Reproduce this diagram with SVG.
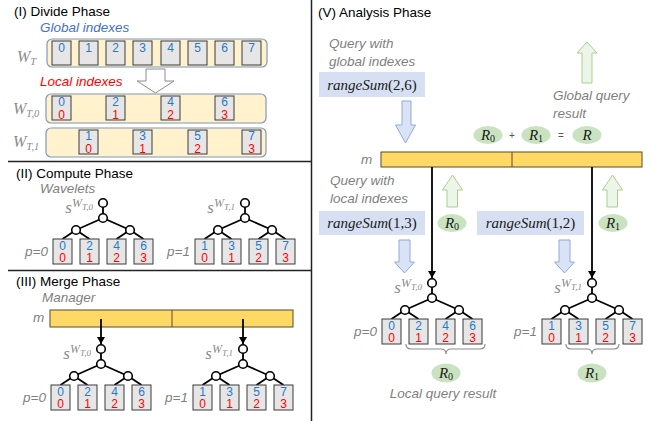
<svg xmlns="http://www.w3.org/2000/svg" width="652" height="421" viewBox="0 0 652 421">
<style>
.title{font-family:"Liberation Sans",Arial,sans-serif;font-size:13.5px;fill:#000}
.gi{font-family:"Liberation Sans",Arial,sans-serif;font-size:13.5px;font-style:italic;fill:#7f7f7f}
.bl{fill:#4472c4}
.rd{fill:#ff0000}
.math{font-family:"Liberation Serif","Times New Roman",serif;font-style:italic;fill:#8c8c8c}
.mathk{font-family:"Liberation Serif","Times New Roman",serif;font-style:italic;fill:#1a1a1a;font-size:15px}
.up{font-style:normal}
.cell{fill:#e6e6e6;stroke:#3a3a3a;stroke-width:1}
.db{font-family:"Liberation Sans",Arial,sans-serif;font-size:12px;fill:#2878c8;text-anchor:middle}
.dr{font-family:"Liberation Sans",Arial,sans-serif;font-size:12px;fill:#ff0000;text-anchor:middle}
.wbar{fill:#fff2cc;stroke:#7f98c0;stroke-width:1.2}
.gold{fill:#ffd966;stroke:#5a4a28;stroke-width:1}
.edge{stroke:#000;stroke-width:1.8;fill:none}
.nd{fill:#fff;stroke:#000;stroke-width:1.6}
.sep{stroke:#222;stroke-width:1.5}
.harrow{fill:#fff;stroke:#8c8c8c;stroke-width:1}
.barrow{fill:#dae3f3;stroke:#8faadc;stroke-width:1}
.garrow{fill:#edf5e9;stroke:#a9d18e;stroke-width:1}
.qbox{fill:#d6e0f2}
.ell{fill:#c9e2c0}
.brace{fill:none;stroke:#8c8c8c;stroke-width:1.2}
.sym{font-family:"Liberation Sans",Arial,sans-serif;font-size:10px;fill:#555;text-anchor:middle}
</style>
<defs>
<marker id="ah" markerWidth="7" markerHeight="8" refX="7" refY="4" orient="auto" markerUnits="userSpaceOnUse"><path d="M0,0 L7,4 L0,8 z" fill="#000"/></marker>
<g id="skel">
<path class="edge" d="M0,0 V15 M0,15 L-27,27 M0,15 L27,27 M-27,27 L-40.5,36 M-27,27 L-13.5,36 M27,27 L13.5,36 M27,27 L40.5,36"/>
<circle class="nd" cx="0" cy="0" r="4.3"/>
<circle class="nd" cx="0" cy="15" r="4.3"/>
<circle class="nd" cx="-27" cy="27" r="4.3"/>
<circle class="nd" cx="27" cy="27" r="4.3"/>
<rect class="cell" x="-50" y="36" width="19" height="25"/>
<rect class="cell" x="-23" y="36" width="19" height="25"/>
<rect class="cell" x="4" y="36" width="19" height="25"/>
<rect class="cell" x="31" y="36" width="19" height="25"/>
<text class="dr" x="-40.5" y="59">0</text>
<text class="dr" x="-13.5" y="59">1</text>
<text class="dr" x="13.5" y="59">2</text>
<text class="dr" x="40.5" y="59">3</text>
</g>
</defs>

<!-- separators -->
<g id="separators">
<line class="sep" x1="311.5" y1="0" x2="311.5" y2="421"/>
<line class="sep" x1="8" y1="161.5" x2="311.5" y2="161.5"/>
<line class="sep" x1="8" y1="270.5" x2="311.5" y2="270.5"/>
</g>

<!-- (I) Divide Phase -->
<g id="divide">
<text class="title" x="14" y="16">(I) Divide Phase</text>
<text class="gi bl" x="40" y="32">Global indexes</text>
<text class="math" x="17" y="62" font-size="16">W<tspan class="math" font-size="10.5" dy="3">T</tspan></text>
<g id="wt">
<rect class="wbar" x="47" y="39" width="220" height="28" rx="5"/>
<rect class="cell" x="52" y="41" width="19" height="24"/><text class="db" x="61.5" y="52">0</text>
<rect class="cell" x="79" y="41" width="19" height="24"/><text class="db" x="88.5" y="52">1</text>
<rect class="cell" x="106" y="41" width="19" height="24"/><text class="db" x="115.5" y="52">2</text>
<rect class="cell" x="133" y="41" width="19" height="24"/><text class="db" x="142.5" y="52">3</text>
<rect class="cell" x="161" y="41" width="19" height="24"/><text class="db" x="170.5" y="52">4</text>
<rect class="cell" x="188" y="41" width="19" height="24"/><text class="db" x="197.5" y="52">5</text>
<rect class="cell" x="215" y="41" width="19" height="24"/><text class="db" x="224.5" y="52">6</text>
<rect class="cell" x="242" y="41" width="19" height="24"/><text class="db" x="251.5" y="52">7</text>
</g>
<path class="harrow" d="M146,69 H165 V81 H174 L155.5,93 L137,81 H146 Z"/>
<text class="gi rd" x="40" y="86">Local indexes</text>
<text class="math" x="13" y="114" font-size="16">W<tspan font-size="10.5" dy="3">T,0</tspan></text>
<g id="wt0">
<rect class="wbar" x="46" y="94" width="220" height="29" rx="5"/>
<rect class="cell" x="52" y="96" width="19" height="24"/><text class="db" x="61.5" y="106">0</text><text class="dr" x="61.5" y="119">0</text>
<rect class="cell" x="106" y="96" width="19" height="24"/><text class="db" x="115.5" y="106">2</text><text class="dr" x="115.5" y="119">1</text>
<rect class="cell" x="161" y="96" width="19" height="24"/><text class="db" x="170.5" y="106">4</text><text class="dr" x="170.5" y="119">2</text>
<rect class="cell" x="215" y="96" width="19" height="24"/><text class="db" x="224.5" y="106">6</text><text class="dr" x="224.5" y="119">3</text>
</g>
<text class="math" x="13" y="147" font-size="16">W<tspan font-size="10.5" dy="3">T,1</tspan></text>
<g id="wt1">
<rect class="wbar" x="46" y="128" width="220" height="29" rx="5"/>
<rect class="cell" x="79" y="130" width="19" height="24"/><text class="db" x="88.5" y="140">1</text><text class="dr" x="88.5" y="153">0</text>
<rect class="cell" x="133" y="130" width="19" height="24"/><text class="db" x="142.5" y="140">3</text><text class="dr" x="142.5" y="153">1</text>
<rect class="cell" x="188" y="130" width="19" height="24"/><text class="db" x="197.5" y="140">5</text><text class="dr" x="197.5" y="153">2</text>
<rect class="cell" x="242" y="130" width="19" height="24"/><text class="db" x="251.5" y="140">7</text><text class="dr" x="251.5" y="153">3</text>
</g>
</g>

<!-- (II) Compute Phase -->
<g id="compute">
<text class="title" x="16" y="178">(II) Compute Phase</text>
<text class="gi" x="40" y="193">Wavelets</text>
<g id="c-tree0" transform="translate(103,203)">
<use href="#skel"/>
<text class="db" x="-40.5" y="47">0</text><text class="db" x="-13.5" y="47">2</text><text class="db" x="13.5" y="47">4</text><text class="db" x="40.5" y="47">6</text>
<text class="math" x="-10" y="10" text-anchor="end" font-size="17">s<tspan font-size="12" dy="-6">W</tspan><tspan font-size="9" dy="3">T,0</tspan></text>
<text class="gi" x="-55" y="53" text-anchor="end">p=0</text>
</g>
<g id="c-tree1" transform="translate(245,203)">
<use href="#skel"/>
<text class="db" x="-40.5" y="47">1</text><text class="db" x="-13.5" y="47">3</text><text class="db" x="13.5" y="47">5</text><text class="db" x="40.5" y="47">7</text>
<text class="math" x="-10" y="10" text-anchor="end" font-size="17">s<tspan font-size="12" dy="-6">W</tspan><tspan font-size="9" dy="3">T,1</tspan></text>
<text class="gi" x="-55" y="53" text-anchor="end">p=1</text>
</g>
</g>

<!-- (III) Merge Phase -->
<g id="merge">
<text class="title" x="16" y="286">(III) Merge Phase</text>
<text class="gi" x="42" y="302">Manager</text>
<text class="gi" x="33" y="322">m</text>
<g id="m-bar">
<rect class="gold" x="50" y="310" width="243" height="17"/>
<line x1="172" y1="310" x2="172" y2="327" stroke="#5a4a28" stroke-width="1"/>
</g>
<g id="m-tree0" transform="translate(101,349)">
<use href="#skel"/>
<text class="db" x="-40.5" y="47">0</text><text class="db" x="-13.5" y="47">2</text><text class="db" x="13.5" y="47">4</text><text class="db" x="40.5" y="47">6</text>
<text class="math" x="-10" y="10" text-anchor="end" font-size="17">s<tspan font-size="12" dy="-6">W</tspan><tspan font-size="9" dy="3">T,0</tspan></text>
<text class="gi" x="-55" y="53" text-anchor="end">p=0</text>
</g>
<g id="m-tree1" transform="translate(243,349)">
<use href="#skel"/>
<text class="db" x="-40.5" y="47">1</text><text class="db" x="-13.5" y="47">3</text><text class="db" x="13.5" y="47">5</text><text class="db" x="40.5" y="47">7</text>
<text class="math" x="-10" y="10" text-anchor="end" font-size="17">s<tspan font-size="12" dy="-6">W</tspan><tspan font-size="9" dy="3">T,1</tspan></text>
<text class="gi" x="-55" y="53" text-anchor="end">p=1</text>
</g>
</g>

<!-- (V) Analysis Phase -->
<g id="analysis">
<text class="title" x="318" y="17">(V) Analysis Phase</text>
<text class="gi" x="329" y="48">Query with</text>
<text class="gi" x="329" y="66">global indexes</text>
<g id="q-global">
<rect class="qbox" x="319" y="72" width="106" height="25"/>
<text class="mathk" x="372" y="90" text-anchor="middle">rangeSum<tspan class="up">(2,6)</tspan></text>
</g>
<path class="barrow" d="M402,101 H411 V125 H415.5 L405.5,143 L395.5,125 H402 Z"/>
<text class="gi" x="553" y="100">Global query</text>
<text class="gi" x="553" y="118">result</text>
<path class="garrow" d="M582,83 V53 H577 L587,42 L597,53 H592 V83 Z"/>
<g id="sum">
<ellipse class="ell" cx="488" cy="135" rx="14.5" ry="9"/>
<text class="mathk" x="488" y="140" text-anchor="middle">R<tspan class="up" font-size="10" dy="2">0</tspan></text>
<text class="sym" x="512" y="139">+</text>
<ellipse class="ell" cx="536" cy="135" rx="14.5" ry="9"/>
<text class="mathk" x="536" y="140" text-anchor="middle">R<tspan class="up" font-size="10" dy="2">1</tspan></text>
<text class="sym" x="561" y="139">=</text>
<ellipse class="ell" cx="587" cy="135" rx="14.5" ry="9"/>
<text class="mathk" x="587" y="140" text-anchor="middle">R</text>
</g>
<text class="gi" x="361" y="164">m</text>
<g id="a-bar">
<rect class="gold" x="381" y="152" width="261" height="15"/>
<line x1="512" y1="152" x2="512" y2="167" stroke="#5a4a28" stroke-width="1"/>
</g>
<text class="gi" x="330" y="185">Query with</text>
<text class="gi" x="330" y="203">local indexes</text>
<g id="q-local0">
<rect class="qbox" x="319" y="211" width="106" height="24"/>
<text class="mathk" x="372" y="228" text-anchor="middle">rangeSum<tspan class="up">(1,3)</tspan></text>
</g>
<g id="q-local1">
<rect class="qbox" x="477" y="211" width="107" height="24"/>
<text class="mathk" x="530.5" y="228" text-anchor="middle">rangeSum<tspan class="up">(1,2)</tspan></text>
</g>
<path class="barrow" d="M399,240 H410 V262 H414.5 L404.5,273 L394.5,262 H399 Z"/>
<path class="barrow" d="M559,240 H570 V262 H574.5 L564.5,273 L554.5,262 H559 Z"/>
<path class="garrow" d="M447,207 V190 H442.5 L452.5,175 L462.5,190 H457.5 V207 Z"/>
<path class="garrow" d="M607,207 V190 H602.5 L612.5,175 L622.5,190 H617.5 V207 Z"/>
<g id="r0-up">
<ellipse class="ell" cx="452" cy="223" rx="14.5" ry="9"/>
<text class="mathk" x="452" y="228" text-anchor="middle">R<tspan class="up" font-size="10" dy="2">0</tspan></text>
</g>
<g id="r1-up">
<ellipse class="ell" cx="613" cy="223" rx="14.5" ry="9"/>
<text class="mathk" x="613" y="228" text-anchor="middle">R<tspan class="up" font-size="10" dy="2">1</tspan></text>
</g>
<g id="a-tree0" transform="translate(432,283)">
<use href="#skel"/>
<text class="db" x="-40.5" y="47">0</text><text class="db" x="-13.5" y="47">2</text><text class="db" x="13.5" y="47">4</text><text class="db" x="40.5" y="47">6</text>
<text class="math" x="-10" y="10" text-anchor="end" font-size="17">s<tspan font-size="12" dy="-6">W</tspan><tspan font-size="9" dy="3">T,0</tspan></text>
<text class="gi" x="-55" y="53" text-anchor="end">p=0</text>
</g>
<g id="a-tree1" transform="translate(592,283)">
<use href="#skel"/>
<text class="db" x="-40.5" y="47">1</text><text class="db" x="-13.5" y="47">3</text><text class="db" x="13.5" y="47">5</text><text class="db" x="40.5" y="47">7</text>
<text class="math" x="-10" y="10" text-anchor="end" font-size="17">s<tspan font-size="12" dy="-6">W</tspan><tspan font-size="9" dy="3">T,1</tspan></text>
<text class="gi" x="-55" y="53" text-anchor="end">p=1</text>
</g>
<path class="brace" d="M406,344 q0,5 5,5 H441 q5,0 5,5 q0,-5 5,-5 H480 q5,0 5,-5"/>
<path class="brace" d="M566,344 q0,5 5,5 H587 q5,0 5,5 q0,-5 5,-5 H614 q5,0 5,-5"/>
<g id="r0-local">
<ellipse class="ell" cx="446" cy="373" rx="14.5" ry="9.5"/>
<text class="mathk" x="446" y="378" text-anchor="middle">R<tspan class="up" font-size="10" dy="2">0</tspan></text>
</g>
<g id="r1-local">
<ellipse class="ell" cx="592" cy="373" rx="14.5" ry="9.5"/>
<text class="mathk" x="592" y="378" text-anchor="middle">R<tspan class="up" font-size="10" dy="2">1</tspan></text>
</g>
<text class="gi" x="443" y="398" text-anchor="middle">Local query result</text>
</g>

<!-- connectors -->
<g id="connectors">
<line class="edge" x1="101" y1="319" x2="101" y2="344" marker-end="url(#ah)"/>
<line class="edge" x1="243" y1="319" x2="243" y2="344" marker-end="url(#ah)"/>
<line class="edge" x1="432" y1="167" x2="432" y2="278" marker-end="url(#ah)"/>
<line class="edge" x1="592" y1="167" x2="592" y2="278" marker-end="url(#ah)"/>
</g>
</svg>
